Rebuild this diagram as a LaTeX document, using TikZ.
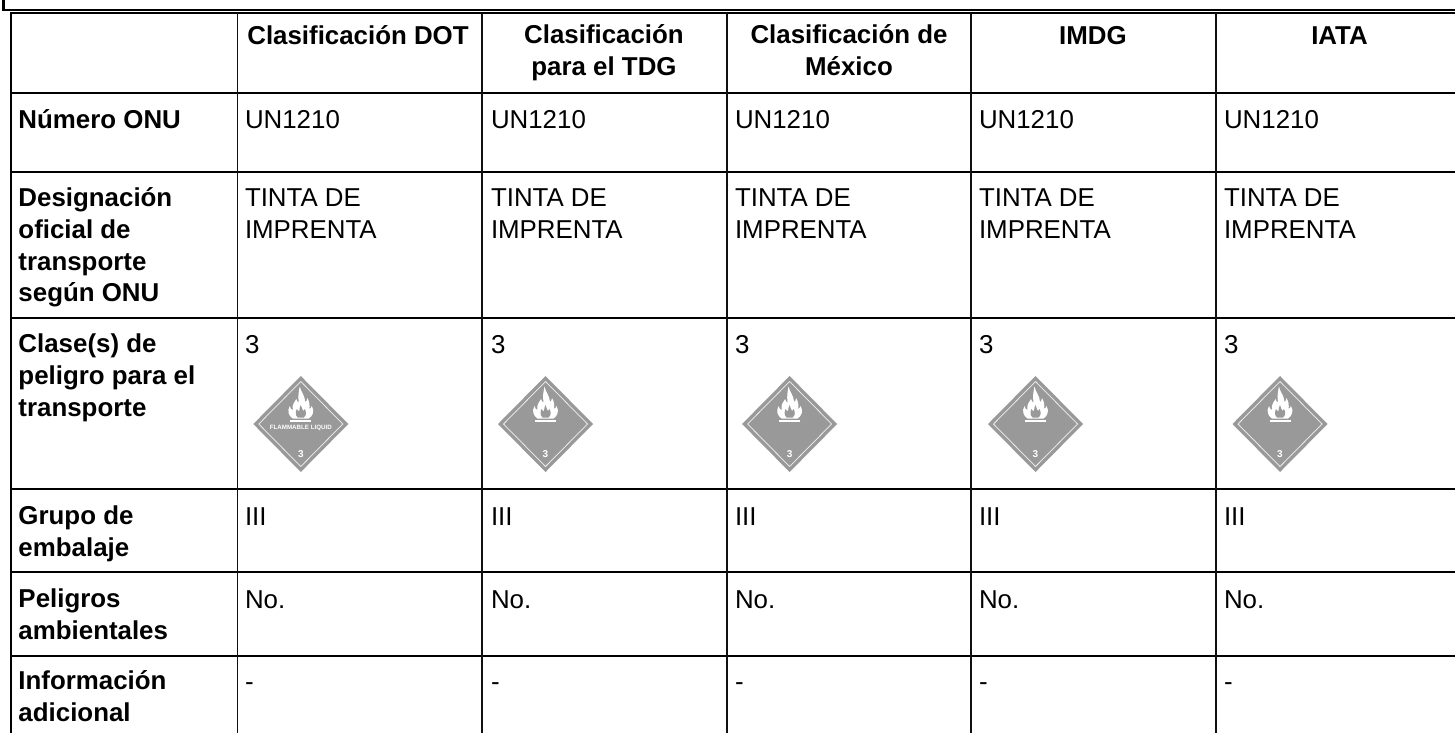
\documentclass[tikz,border=0pt]{standalone}
\usepackage{fontspec}
\setmainfont{Liberation Sans}
\definecolor{placard}{HTML}{999999}
\definecolor{rulecol}{HTML}{101010}
\newcommand{\cellfont}{\fontsize{19.4}{23.8}\selectfont}
\tikzset{
  x=0.75pt, y=-0.75pt,
  hline/.style={draw=black, line width=1.9pt},
  vline/.style={draw=rulecol, line width=1.35pt},
  body/.style={anchor=base west, inner sep=0pt, outer sep=0pt, font=\cellfont},
  rowhead/.style={body, font=\cellfont\bfseries, align=left},
  colhead/.style={anchor=base, inner sep=0pt, outer sep=0pt, font=\cellfont\bfseries, align=center},
  plnum/.style={anchor=center, inner sep=0pt, text=white, font=\fontsize{7.5}{8}\selectfont\bfseries},
  pltext/.style={anchor=center, inner sep=0pt, text=white, font=\fontsize{4.65}{5}\selectfont\bfseries},
  placardbody/.pic={
    \fill[placard] (0,-48) -- (47.5,0) -- (0,48) -- (-47.5,0) -- cycle;
    \draw[white!85!placard, line width=0.55pt] (0,-42.5) -- (42,0) -- (0,42.5) -- (-42,0) -- cycle;
    \fill[white] (-8,-5.5) .. controls (-12,-8) and (-14,-13) .. (-11,-18)
      .. controls (-10.5,-15.5) and (-9.5,-14.5) .. (-8,-14)
      .. controls (-9,-20) and (-6,-22) .. (-4.5,-25)
      .. controls (-4,-22.5) and (-3,-22) .. (-2,-21.5)
      .. controls (-3,-28) and (-2,-33) .. (-1,-37.5)
      .. controls (0,-32) and (4,-29) .. (4.5,-22)
      .. controls (5.5,-22.5) and (6.5,-24) .. (6.5,-26)
      .. controls (9,-22) and (9,-18) .. (8.5,-15)
      .. controls (9.5,-15.5) and (10.5,-16.5) .. (11,-18)
      .. controls (14,-13) and (12,-8) .. (8,-5.5) -- cycle;
    \fill[placard] (-3,-6.5) .. controls (-6,-9) and (-5,-13) .. (-4,-15)
      .. controls (-3.5,-13.5) and (-2.5,-13) .. (-1.5,-13)
      .. controls (-1.5,-15) and (-1,-17) .. (0,-19)
      .. controls (0.5,-16) and (2,-14.5) .. (2.5,-13)
      .. controls (3,-13.5) and (3.5,-14) .. (4,-15)
      .. controls (5.5,-12) and (6,-9) .. (3,-6.5) -- cycle;
    \fill[white] (-10.5,-4.3) rectangle (10.5,-2.3);
  }
}
\begin{document}
\begin{tikzpicture}
\useasboundingbox (0,0) rectangle (1455,733);
\fill[white] (0,0) rectangle (1455,733);
\clip (0,0) rectangle (1455,733);
% outer frame
\draw[hline, line width=1.8pt] (3.5,0) -- (3.5,10) -- (1455,10);
% horizontal rules
\draw[hline, line width=1.6pt] (10,13) -- (1455,13);
\foreach \yy in {93,172,318,489,572,656}
  \draw[hline] (10,\yy) -- (1455,\yy);
% vertical rules
\draw[hline, line width=1.5pt] (11,13) -- (11,733);
\foreach \xx in {237.5,482,727,971,1216}
  \draw[vline] (\xx,13) -- (\xx,733);
% column heads (a node's base is its last line)
\node[colhead] (hA) at (358,44) {Clasificación DOT};
\node[colhead] (hB) at (604,75.7) {Clasificación\\para el TDG};
\node[colhead] (hC) at (849,75.7) {Clasificación de\\México};
\node[colhead] (hD) at (1093,44) {IMDG};
\node[colhead] (hE) at (1339.5,44) {IATA};
% row heads
\node[rowhead] (r1) at (18.5,128) {Número ONU};
\node[rowhead] (r2) at (18.5,301.8) {Designación\\oficial de\\transporte\\según ONU};
\node[rowhead] (r3) at (18.5,416.4) {Clase(s) de\\peligro para el\\transporte};
\node[rowhead] (r4) at (18.5,556.7) {Grupo de\\embalaje};
\node[rowhead] (r5) at (18.5,639.7) {Peligros\\ambientales};
\node[rowhead] (r6) at (18.5,721.7) {Información\\adicional};
% body cells
\foreach \cx/\tx/\px in {A/245/300.8,B/491/545.5,C/735/789.6,D/979/1035.5,E/1224/1280}{
  \node[body] (un\cx) at (\tx,128) {UN1210};
  \node[body, align=left] (name\cx) at (\tx,238.4) {TINTA DE\\IMPRENTA};
  \node[body] (cl\cx) at (\tx,353) {3};
  \pic at (\px,424) {placardbody};
  \node[plnum] (pn\cx) at (\px,454) {3};
  \node[body] (pg\cx) at (\tx,525) {III};
  \node[body] (env\cx) at (\tx,608) {No.};
  \node[body] (add\cx) at (\tx,690) {-};
}
\node[pltext] (flam) at (300.8,427.7) {FLAMMABLE LIQUID};
\end{tikzpicture}
\end{document}
